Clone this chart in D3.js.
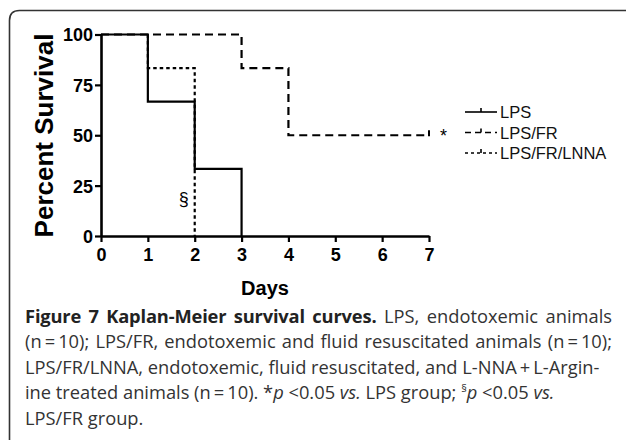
<!DOCTYPE html>
<html><head><meta charset="utf-8">
<script src="https://cdn.jsdelivr.net/npm/d3@7"></script>
<style>body{margin:0;background:#fff}svg{display:block}</style>
</head><body>
<script>
// ---- data ----
const days = [0,1,2,3,4,5,6,7];
const yTicks = [0,25,50,75,100];
const seriesNames = ["LPS","LPS/FR","LPS/FR/LNNA"];
// step curves: [day, percent]
const lps = [[0,100],[1,100],[1,66.7],[2,66.7],[2,33.3],[3,33.3],[3,0]];
const lpsFR = [[0,100],[3,100],[3,83.3],[4,83.3],[4,50],[7,50]];
const lpsFRLNNA = [[1,100],[1,83.3],[2,83.3],[2,0]];
const censorFR = [[7,50]];
const captionLines = [
  ["Figure 7 Kaplan-Meier survival curves.", " LPS, endotoxemic animals", true],
  ["", "(n\u2009=\u200910); LPS/FR, endotoxemic and fluid resuscitated animals (n\u2009=\u200910);", true],
  ["", "LPS/FR/LNNA, endotoxemic, fluid resuscitated, and L-NNA\u2009+\u2009L-Argin-", false],
  ["", "ine treated animals (n\u2009=\u200910). *<i>p</i> <0.05 <i>vs.</i> LPS group; <sup>\u00a7</sup><i>p</i> <0.05 <i>vs.</i>", false],
  ["", "LPS/FR group.", false]
];

const W=627,H=440;
const svg=d3.select("body").append("svg").attr("width",W).attr("height",H);

// frame
svg.append("path")
  .attr("d","M9.5,450 L9.5,20.5 Q9.5,10.5 19.5,10.5 L626,10.5")
  .attr("fill","none").attr("stroke","#333").attr("stroke-width",1.6);

const x=d3.scaleLinear().domain([0,7]).range([101,429]);
const y=d3.scaleLinear().domain([0,100]).range([236,34.5]);
const bold="'Liberation Sans', Arial, sans-serif";

// axes
const yAxis=svg.append("g").attr("transform",`translate(${x(0)},0)`)
  .call(d3.axisLeft(y).tickValues(yTicks).tickFormat(d3.format("d")).tickSize(6).tickPadding(2).tickSizeOuter(0));
const xAxis=svg.append("g").attr("transform",`translate(0,${y(0)})`)
  .call(d3.axisBottom(x).tickValues(days).tickFormat(d3.format("d")).tickSize(6).tickPadding(5).tickSizeOuter(0));
[yAxis,xAxis].forEach(g=>{
  g.select(".domain").attr("stroke","#000").attr("stroke-width",2.6);
  g.selectAll(".tick line").attr("stroke","#000").attr("stroke-width",2.2);
  g.selectAll(".tick text").attr("fill","#000").style("font-family",bold)
   .style("font-weight","bold").style("font-size","18px");
});
yAxis.selectAll(".tick text").attr("dy","0.36em");
xAxis.selectAll(".tick text").attr("dy","0.75em");

// axis titles
svg.append("text").attr("transform",`translate(53,135.5) rotate(-90)`)
  .attr("text-anchor","middle").style("font-family",bold).style("font-weight","bold")
  .style("font-size","26px").text("Percent Survival");
svg.append("text").attr("x",x(3.5)).attr("y",295).attr("text-anchor","middle")
  .style("font-family",bold).style("font-weight","bold").style("font-size","20px").text("Days");

// curves
const line=d3.line().x(d=>x(d[0])).y(d=>y(d[1]));
const styles=[
  {data:lps,dash:null},
  {data:lpsFR,dash:"8,5"},
  {data:lpsFRLNNA,dash:"3.5,3"}
];
styles.forEach(s=>{
  svg.append("path").attr("d",line(s.data)).attr("fill","none")
    .attr("stroke","#000").attr("stroke-width",2.2)
    .attr("stroke-dasharray",s.dash);
});
// censor marks
censorFR.forEach(d=>{
  svg.append("line").attr("x1",x(d[0])).attr("x2",x(d[0]))
    .attr("y1",y(d[1])+1).attr("y2",y(d[1])-5).attr("stroke","#000").attr("stroke-width",2);
});

// annotations
svg.append("text").attr("x",x(7)+11).attr("y",y(50)+7).style("font-family",bold)
  .style("font-size","18px").text("*");
svg.append("text").attr("x",x(2)-6).attr("y",y(16)+1).attr("text-anchor","end")
  .style("font-family",bold).style("font-size","18px").text("\u00a7");

// legend
const legY=[112,132.5,153];
const legDash=[null,"6,4","3,3"];
seriesNames.forEach((n,i)=>{
  const g=svg.append("g");
  g.append("line").attr("x1",465).attr("x2",497).attr("y1",legY[i]).attr("y2",legY[i])
    .attr("stroke","#000").attr("stroke-width",1.6).attr("stroke-dasharray",legDash[i]);
  g.append("line").attr("x1",481).attr("x2",481).attr("y1",legY[i]).attr("y2",legY[i]-4)
    .attr("stroke","#000").attr("stroke-width",1.6);
  g.append("text").attr("x",500).attr("y",legY[i]+6).style("font-family",bold)
    .style("font-size","16.5px").attr("fill","#111").text(n);
});

// caption
const fo=svg.append("foreignObject").attr("x",25).attr("y",303).attr("width",600).attr("height",140);
const div=fo.append("xhtml:div")
  .style("font-family","'Open Sans', sans-serif").style("font-size","18.3px")
  .style("line-height","25.4px").style("color","#333").style("white-space","nowrap");
captionLines.forEach(l=>{
  const p=div.append("xhtml:div").style("width","587px");
  if(l[2]) p.style("text-align","justify").style("text-align-last","justify").style("white-space","normal");
  if(l[0]) p.append("xhtml:b").style("color","#222").style("letter-spacing","-0.15px").text(l[0]);
  p.append("xhtml:span").html(l[1]);
});
div.selectAll("sup").style("font-size","11px").style("vertical-align","7px").style("line-height","0");
</script>
</body></html>
